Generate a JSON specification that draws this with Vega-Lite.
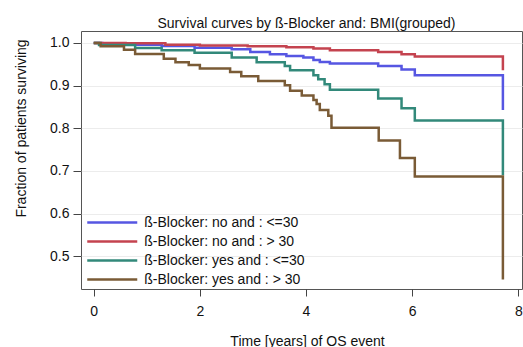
{
  "$schema": "https://vega.github.io/schema/vega-lite/v6.json",
  "width": 441,
  "height": 258,
  "autosize": "none",
  "padding": {"left": 81, "top": 31, "right": 1, "bottom": 58},
  "background": "white",
  "config": {
    "font": "Liberation Sans",
    "view": {"stroke": "#555555", "strokeWidth": 1},
    "axis": {"labelFont": "Liberation Sans", "titleFont": "Liberation Sans", "labelColor": "#111", "titleColor": "#111", "titleFontWeight": "normal"}
  },
  "title": {"text": "Survival curves by ß-Blocker and: BMI(grouped)", "fontSize": 14, "fontWeight": "normal", "font": "Liberation Sans", "color": "#111", "anchor": "middle", "dx": 5, "dy": 17, "offset": 6, "baseline": "alphabetic"},
  "data": {"values": [
    {"g": "ß-Blocker: no and : <=30", "t": 0, "s": 1.0},
    {"g": "ß-Blocker: no and : <=30", "t": 0.16, "s": 0.996},
    {"g": "ß-Blocker: no and : <=30", "t": 1.28, "s": 0.993},
    {"g": "ß-Blocker: no and : <=30", "t": 1.9, "s": 0.989},
    {"g": "ß-Blocker: no and : <=30", "t": 2.6, "s": 0.985},
    {"g": "ß-Blocker: no and : <=30", "t": 2.95, "s": 0.979},
    {"g": "ß-Blocker: no and : <=30", "t": 3.32, "s": 0.9735},
    {"g": "ß-Blocker: no and : <=30", "t": 3.63, "s": 0.9696},
    {"g": "ß-Blocker: no and : <=30", "t": 3.95, "s": 0.9656},
    {"g": "ß-Blocker: no and : <=30", "t": 4.14, "s": 0.960},
    {"g": "ß-Blocker: no and : <=30", "t": 4.26, "s": 0.9555},
    {"g": "ß-Blocker: no and : <=30", "t": 4.45, "s": 0.9516},
    {"g": "ß-Blocker: no and : <=30", "t": 5.36, "s": 0.946},
    {"g": "ß-Blocker: no and : <=30", "t": 5.8, "s": 0.938},
    {"g": "ß-Blocker: no and : <=30", "t": 6.05, "s": 0.924},
    {"g": "ß-Blocker: no and : <=30", "t": 7.71, "s": 0.843},
    {"g": "ß-Blocker: no and : > 30", "t": 0, "s": 1.0},
    {"g": "ß-Blocker: no and : > 30", "t": 0.6, "s": 0.999},
    {"g": "ß-Blocker: no and : > 30", "t": 1.35, "s": 0.996},
    {"g": "ß-Blocker: no and : > 30", "t": 2.0, "s": 0.994},
    {"g": "ß-Blocker: no and : > 30", "t": 2.9, "s": 0.992},
    {"g": "ß-Blocker: no and : > 30", "t": 3.63, "s": 0.990},
    {"g": "ß-Blocker: no and : > 30", "t": 4.14, "s": 0.987},
    {"g": "ß-Blocker: no and : > 30", "t": 4.45, "s": 0.983},
    {"g": "ß-Blocker: no and : > 30", "t": 5.36, "s": 0.979},
    {"g": "ß-Blocker: no and : > 30", "t": 5.8, "s": 0.9735},
    {"g": "ß-Blocker: no and : > 30", "t": 6.05, "s": 0.968},
    {"g": "ß-Blocker: no and : > 30", "t": 7.71, "s": 0.936},
    {"g": "ß-Blocker: yes and : <=30", "t": 0, "s": 1.0},
    {"g": "ß-Blocker: yes and : <=30", "t": 0.1, "s": 0.995},
    {"g": "ß-Blocker: yes and : <=30", "t": 0.78, "s": 0.988},
    {"g": "ß-Blocker: yes and : <=30", "t": 1.28, "s": 0.983},
    {"g": "ß-Blocker: yes and : <=30", "t": 1.9, "s": 0.977},
    {"g": "ß-Blocker: yes and : <=30", "t": 2.6, "s": 0.966},
    {"g": "ß-Blocker: yes and : <=30", "t": 3.07, "s": 0.955},
    {"g": "ß-Blocker: yes and : <=30", "t": 3.6, "s": 0.946},
    {"g": "ß-Blocker: yes and : <=30", "t": 3.7, "s": 0.936},
    {"g": "ß-Blocker: yes and : <=30", "t": 4.14, "s": 0.924},
    {"g": "ß-Blocker: yes and : <=30", "t": 4.23, "s": 0.915},
    {"g": "ß-Blocker: yes and : <=30", "t": 4.35, "s": 0.903},
    {"g": "ß-Blocker: yes and : <=30", "t": 4.45, "s": 0.890},
    {"g": "ß-Blocker: yes and : <=30", "t": 5.36, "s": 0.870},
    {"g": "ß-Blocker: yes and : <=30", "t": 5.8, "s": 0.847},
    {"g": "ß-Blocker: yes and : <=30", "t": 6.05, "s": 0.818},
    {"g": "ß-Blocker: yes and : <=30", "t": 7.71, "s": 0.690},
    {"g": "ß-Blocker: yes and : > 30", "t": 0, "s": 1.0},
    {"g": "ß-Blocker: yes and : > 30", "t": 0.13, "s": 0.992},
    {"g": "ß-Blocker: yes and : > 30", "t": 0.57, "s": 0.984},
    {"g": "ß-Blocker: yes and : > 30", "t": 0.78, "s": 0.974},
    {"g": "ß-Blocker: yes and : > 30", "t": 1.32, "s": 0.963},
    {"g": "ß-Blocker: yes and : > 30", "t": 1.54, "s": 0.955},
    {"g": "ß-Blocker: yes and : > 30", "t": 1.79, "s": 0.948},
    {"g": "ß-Blocker: yes and : > 30", "t": 2.0, "s": 0.940},
    {"g": "ß-Blocker: yes and : > 30", "t": 2.57, "s": 0.932},
    {"g": "ß-Blocker: yes and : > 30", "t": 2.78, "s": 0.922},
    {"g": "ß-Blocker: yes and : > 30", "t": 3.1, "s": 0.911},
    {"g": "ß-Blocker: yes and : > 30", "t": 3.6, "s": 0.901},
    {"g": "ß-Blocker: yes and : > 30", "t": 3.7, "s": 0.888},
    {"g": "ß-Blocker: yes and : > 30", "t": 3.92, "s": 0.877},
    {"g": "ß-Blocker: yes and : > 30", "t": 4.14, "s": 0.866},
    {"g": "ß-Blocker: yes and : > 30", "t": 4.2, "s": 0.857},
    {"g": "ß-Blocker: yes and : > 30", "t": 4.26, "s": 0.843},
    {"g": "ß-Blocker: yes and : > 30", "t": 4.42, "s": 0.829},
    {"g": "ß-Blocker: yes and : > 30", "t": 4.48, "s": 0.801},
    {"g": "ß-Blocker: yes and : > 30", "t": 5.37, "s": 0.771},
    {"g": "ß-Blocker: yes and : > 30", "t": 5.77, "s": 0.730},
    {"g": "ß-Blocker: yes and : > 30", "t": 6.05, "s": 0.687},
    {"g": "ß-Blocker: yes and : > 30", "t": 7.71, "s": 0.445}
  ]},
  "mark": {"type": "line", "interpolate": "step-after", "strokeWidth": 2.5, "clip": true},
  "encoding": {
    "x": {"field": "t", "type": "quantitative",
      "scale": {"domain": [-0.24, 8.07], "nice": false, "zero": false},
      "axis": {"values": [0, 2, 4, 6, 8], "grid": false, "domain": false, "tickSize": 7, "tickColor": "#444", "labelFontSize": 14, "labelPadding": 8, "title": "Time [years] of OS event", "titleFontSize": 14, "titleBaseline": "alphabetic", "titleY": 56, "titleX": 226, "titleAnchor": "middle"}},
    "y": {"field": "s", "type": "quantitative",
      "scale": {"domain": [0.423, 1.028], "nice": false, "zero": false},
      "axis": {"values": [0.5, 0.6, 0.7, 0.8, 0.9, 1.0], "format": ".1f", "grid": true, "gridColor": "#ececec", "domain": false, "tickSize": 8, "tickColor": "#444", "labelFontSize": 14, "labelPadding": 4, "title": "Fraction of patients surviving", "titleFontSize": 14, "titleAngle": -90, "titleBaseline": "alphabetic", "titleX": -56, "titleY": 97, "titleAlign": "center"}},
    "color": {"field": "g", "type": "nominal",
      "scale": {"domain": ["ß-Blocker: no and : <=30", "ß-Blocker: no and : > 30", "ß-Blocker: yes and : <=30", "ß-Blocker: yes and : > 30"],
                "range": ["#5656e2", "#c4434f", "#32897a", "#7a5b36"]},
      "legend": {"orient": "none", "legendX": 23.75, "legendY": 184, "padding": 0, "title": null, "symbolType": "M-4,0H4", "symbolSize": 156.25, "symbolStrokeWidth": 2.5, "labelFontSize": 14, "labelFont": "Liberation Sans", "labelColor": "#111", "labelOffset": 24.5, "labelLimit": 400, "rowPadding": 4}}
  }
}
